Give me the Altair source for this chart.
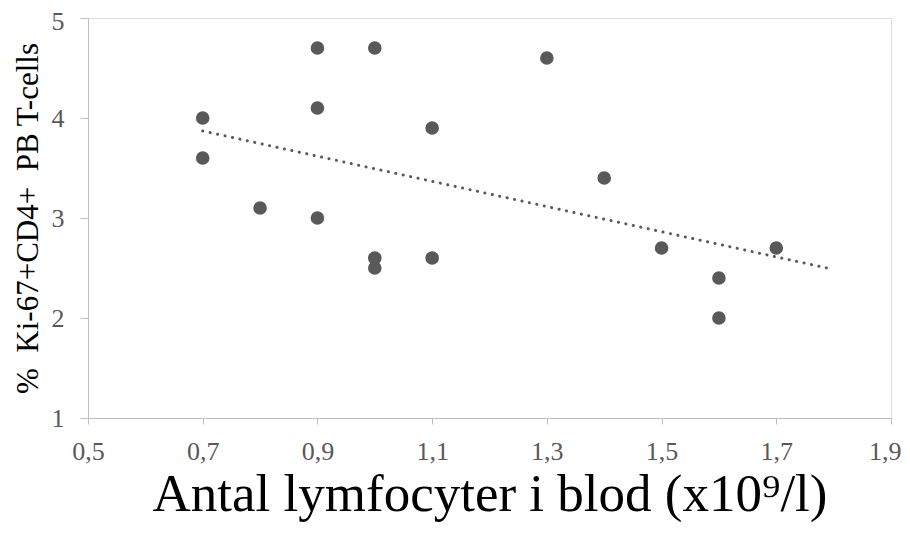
import altair as alt
import pandas as pd

lymf = [0.7, 0.7, 0.8, 0.9, 0.9, 0.9, 1.0, 1.0, 1.0, 1.1, 1.1, 1.3, 1.4, 1.5, 1.6, 1.6, 1.7]
ki67 = [4.0, 3.6, 3.1, 4.7, 4.1, 3.0, 4.7, 2.6, 2.5, 3.9, 2.6, 4.6, 3.4, 2.7, 2.4, 2.0, 2.7]
x_ticks = [0.5, 0.7, 0.9, 1.1, 1.3, 1.5, 1.7, 1.9]
y_ticks = [1, 2, 3, 4, 5]

df = pd.DataFrame({"x": lymf, "y": ki67})

FONT = "Liberation Serif"
GREY = "#595959"
AXIS = "#bfbfbf"

xenc = alt.X(
    "x:Q",
    scale=alt.Scale(domain=[0.5, 1.9], nice=False, zero=False),
    axis=alt.Axis(
        values=x_ticks,
        labelExpr="replace(format(datum.value, '.1f'), '.', ',')",
        title="Antal lymfocyter i blod (x10\u2079/l)",
        titleFontSize=53,
        titleFont=FONT,
        titleFontWeight="normal",
        titleColor="black",
        titlePadding=4,
        grid=False,
        domainColor=AXIS,
        tickColor=AXIS,
        tickSize=6,
        labelFont=FONT,
        labelFontSize=26,
        labelColor=GREY,
        labelPadding=14,
        labelFlush=False,
        labelOverlap=False,
        labelAlign={"condition": {"test": "datum.value >= 1.85", "value": "right"}, "value": "center"},
        labelOffset={"condition": {"test": "datum.value >= 1.85", "value": 10}, "value": 0},
    ),
)
yenc = alt.Y(
    "y:Q",
    scale=alt.Scale(domain=[1, 5], nice=False, zero=False),
    axis=alt.Axis(
        values=y_ticks,
        format="d",
        title="%\u00a0\u00a0Ki-67+CD4+\u00a0\u00a0PB T-cells",
        titleFontSize=31,
        titleFont=FONT,
        titleFontWeight="normal",
        titleColor="black",
        titlePadding=7,
        grid=False,
        domainColor=AXIS,
        tickColor=AXIS,
        tickSize=8,
        labelFont=FONT,
        labelFontSize=26,
        labelColor=GREY,
        labelPadding=16,
        labelFlush=False,
        labelOverlap=False,
        labelOffset={"condition": {"test": "datum.value >= 4.9", "value": 3}, "value": 0},
    ),
)

points = alt.Chart(df).mark_circle(size=185, color=GREY, opacity=1).encode(x=xenc, y=yenc)

trend = (
    alt.Chart(df)
    .transform_regression("x", "y", extent=[0.7, 1.8])
    .mark_line(color=GREY, strokeWidth=3, strokeDash=[0.1, 7.5], strokeCap="round")
    .encode(x=xenc, y=yenc)
)

chart = (
    alt.layer(points, trend)
    .properties(
        width=803,
        height=400,
        autosize=alt.AutoSizeParams(type="none"),
        padding={"left": 80, "top": 10, "right": 11, "bottom": 108},
    )
    .configure_view(stroke=None)
    .configure(background="white")
)

chart.save("out.html", embed_options={"renderer": "svg", "actions": False})
